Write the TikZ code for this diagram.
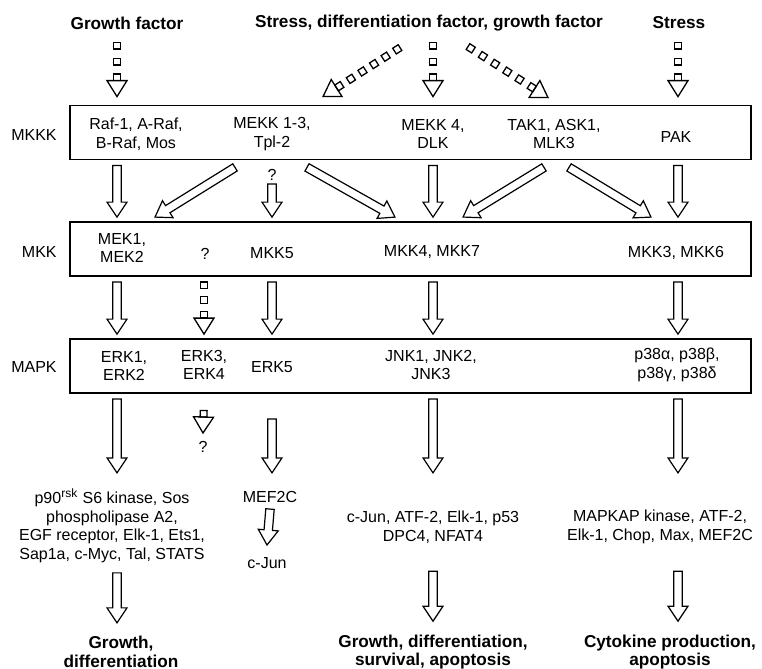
\documentclass[tikz,border=0pt]{standalone}
\usepackage{fontspec}
\setmainfont{Liberation Sans}
\usetikzlibrary{calc,decorations.markings}

\tikzset{
  box/.style  = {draw, line width=0.9pt, minimum width=340.5pt, minimum height=27pt},
  txt/.style  = {font=\fontsize{8}{9.3}\selectfont, align=center, inner sep=0},
  hdr/.style  = {font=\fontsize{8.6}{9.4}\selectfont\bfseries, align=center, inner sep=0},
  % hollow block arrow
  fat/.style  = {postaction={decorate,
                   decoration={markings,
                     mark=at position 1 with {\draw[line width=0.6pt]
                       (0,0) -- (-7.5pt,5pt) -- (-7.5pt,2.1pt)
                       -- ({-\pgfdecoratedpathlength},2.1pt)
                       -- ({-\pgfdecoratedpathlength},-2.1pt)
                       -- (-7.5pt,-2.1pt) -- (-7.5pt,-5pt) -- cycle;}}}},
  % broken block arrow: #1 little boxes between tail and head
  dfat/.style = {postaction={decorate,
                   decoration={markings,
                     mark=at position 1 with {
                       \draw[line width=0.65pt] (0,0) -- (-8pt,5pt) -- (-8pt,-5pt) -- cycle;
                       \pgfmathsetmacro\bstep{(\pgfdecoratedpathlength-11.25)/max(#1-1,1)}
                       \foreach \k in {1,...,#1}
                         \draw[line width=0.65pt] ({-11.25pt-(\k-1)*\bstep},-1.7pt)
                           rectangle ++(3.25pt,3.4pt);}}}},
  dfat/.default=3
}

\begin{document}
\begin{tikzpicture}[x=0.5pt, y=-0.5pt]
   \useasboundingbox (0,0) rectangle (762,669);

   % columns
   \coordinate (c1) at (117,0);
   \coordinate (c2) at (204,0);
   \coordinate (c3) at (272,0);
   \coordinate (c4) at (433,0);
   \coordinate (c5) at (678,0);

   % stimuli
   \node[hdr] (gf)  at (127,23) {Growth factor};
   \node[hdr] (sdg) at (429,23) {Stress, differentiation factor, growth factor};
   \node[hdr] (st)  at (679,23) {Stress};

   % tiers
   \node[box] (kkk)  at (410.5,132.5) {};
   \node[box] (kk)   at (410.5,249) {};
   \node[box] (mapk) at (410.5,366) {};

   \node[txt,anchor=east] (lkkk)  at (57,135) {MKKK};
   \node[txt,anchor=east] (lkk)   at (57,252) {MKK};
   \node[txt,anchor=east] (lmapk) at (57,367) {MAPK};

   \node[txt] (raf)   at (136,134) {Raf-1, A-Raf,\\B-Raf, Mos};
   \node[txt] (mekk)  at (272,134) {MEKK 1-3,\\Tpl-2};
   \node[txt] (mekkf) at (433,134) {MEKK 4,\\DLK};
   \node[txt] (tak)   at (554,134) {TAK1, ASK1,\\MLK3};
   \node[txt] (pak)   at (676,137) {PAK};

   \node[txt] (mek)   at (122,248) {MEK1,\\MEK2};
   \node[txt] (qmkk)  at (205,254) {?};
   \node[txt] (mkkf)  at (272,253) {MKK5};
   \node[txt] (mkkfs) at (432,252) {MKK4, MKK7};
   \node[txt] (mkkt)  at (676,253) {MKK3, MKK6};

   \node[txt] (erk)   at (124,366) {ERK1,\\ERK2};
   \node[txt] (erkt)  at (204,365) {ERK3,\\ERK4};
   \node[txt] (erkf)  at (272,367) {ERK5};
   \node[txt] (jnk)   at (431,365) {JNK1, JNK2,\\JNK3};
   \node[txt] (p38)   at (677,365) {p38α, p38β,\\p38γ, p38δ};

   \node[txt] (qk)    at (272,175) {?};
   \node[txt] (qerk)  at (203,447) {?};

   % substrates
   \node[txt] (sub1) at (112,526) {p90\textsuperscript{rsk} S6 kinase, Sos\\phospholipase A2,\\EGF receptor, Elk-1, Ets1,\\Sap1a, c-Myc, Tal, STATS};
   \node[txt] (mef)  at (270,497) {MEF2C};
   \node[txt] (cjun) at (267,563) {c-Jun};
   \node[txt] (sub2) at (433,527) {c-Jun, ATF-2, Elk-1, p53\\DPC4, NFAT4};
   \node[txt] (sub3) at (660,527) {MAPKAP kinase, ATF-2,\\Elk-1, Chop, Max, MEF2C};

   % outcomes
   \node[hdr] (out1) at (121,652) {Growth,\\differentiation};
   \node[hdr] (out2) at (433,652) {Growth, differentiation,\\survival, apoptosis};
   \node[hdr] (out3) at (670,652) {Cytokine production,\\apoptosis};

   % stimuli -> MKKK
   \path[dfat] ($(c1 |- kkk.north)+(0,-62)$) -- ($(c1 |- kkk.north)+(0,-8)$);
   \path[dfat=6] ($(sdg |- kkk.north)+(-29,-57)$) -- ($(mekk |- kkk.north)+(51,-8)$);
   \path[dfat] ($(c4 |- kkk.north)+(0,-62)$) -- ($(c4 |- kkk.north)+(0,-8)$);
   \path[dfat=6] ($(sdg |- kkk.north)+(39,-58)$) -- ($(tak |- kkk.north)+(-6,-7)$);
   \path[dfat] ($(c5 |- kkk.north)+(0,-62)$) -- ($(c5 |- kkk.north)+(0,-8)$);

   % MKKK -> MKK
   \path[fat] ($(c1 |- kkk.south)+(0,5)$) -- ($(c1 |- kk.north)+(0,-4)$);
   \path[fat] ($(mekk |- kkk.south)+(-37,7)$) -- ($(mek |- kk.north)+(33,-4)$);
   \path[fat] ($(qk.south)+(0,3)$) -- ($(c3 |- kk.north)+(0,-4)$);
   \path[fat] ($(mekk |- kkk.south)+(35,7)$) -- ($(mkkfs |- kk.north)+(-37,-4)$);
   \path[fat] ($(c4 |- kkk.south)+(0,5)$) -- ($(c4 |- kk.north)+(0,-4)$);
   \path[fat] ($(tak |- kkk.south)+(-10,7)$) -- ($(mkkfs |- kk.north)+(31,-4)$);
   \path[fat] ($(tak |- kkk.south)+(15,7)$) -- ($(mkkt |- kk.north)+(-25,-4)$);
   \path[fat] ($(c5 |- kkk.south)+(0,5)$) -- ($(c5 |- kk.north)+(0,-4)$);

   % MKK -> MAPK
   \path[fat]  ($(c1 |- kk.south)+(0,5)$) -- ($(c1 |- mapk.north)+(0,-4)$);
   \path[dfat] ($(c2 |- kk.south)+(0,5)$) -- ($(c2 |- mapk.north)+(0,-4)$);
   \path[fat]  ($(c3 |- kk.south)+(0,5)$) -- ($(c3 |- mapk.north)+(0,-4)$);
   \path[fat]  ($(c4 |- kk.south)+(0,5)$) -- ($(c4 |- mapk.north)+(0,-4)$);
   \path[fat]  ($(c5 |- kk.south)+(0,5)$) -- ($(c5 |- mapk.north)+(0,-4)$);

   % MAPK -> substrates
   \path[fat]    ($(c1 |- mapk.south)+(0,5)$) -- ($(c1 |- mapk.south)+(0,79)$);
   \path[dfat=1] ($(c2 |- mapk.south)+(0,7)$) -- ($(qerk.north)+(0,-8)$);
   \path[fat]    ($(c3 |- mapk.south)+(0,25)$) -- ($(c3 |- mapk.south)+(0,79)$);
   \path[fat]    ($(c4 |- mapk.south)+(0,5)$) -- ($(c4 |- mapk.south)+(0,79)$);
   \path[fat]    ($(c5 |- mapk.south)+(0,5)$) -- ($(c5 |- mapk.south)+(0,79)$);
   \path[fat]    ($(mef.south)+(0,6)$) -- ($(cjun.north)+(0,-12)$);

   % substrates -> outcomes
   \path[fat] ($(c1 |- out1.north)+(0,-63)$) -- ($(c1 |- out1.north)+(0,-13)$);
   \path[fat] ($(c4 |- out2.north)+(0,-63)$) -- ($(c4 |- out2.north)+(0,-13)$);
   \path[fat] ($(c5 |- out3.north)+(0,-63)$) -- ($(c5 |- out3.north)+(0,-13)$);

\end{tikzpicture}
\end{document}
